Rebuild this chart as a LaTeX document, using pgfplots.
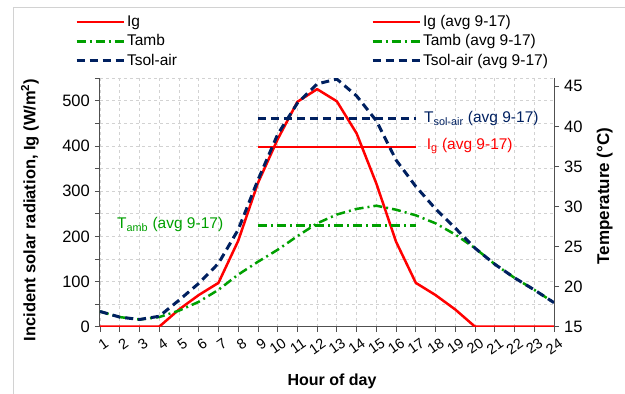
\documentclass[border=0pt]{standalone}
\usepackage{pgfplots}
\pgfplotsset{compat=1.18}
\usepackage{pgfplotstable}
\usepackage{fontspec}
\setmainfont{Liberation Sans}

\definecolor{igred}{RGB}{255,0,0}
\definecolor{tambgreen}{RGB}{0,160,0}
\definecolor{solblue}{RGB}{0,32,96}
\definecolor{gridgray}{RGB}{210,210,210}
\definecolor{axisgray}{RGB}{80,80,80}

% hourly incident radiation (W/m2), ambient and sol-air temperatures (degC)
\pgfplotstableread{
hour Ig  Tamb Tsol
1    0   16.9 16.9
2    0   16.2 16.2
3    0   15.9 15.9
4    0   16.2 16.3
5    38  17.0 18.3
6    70  18.1 20.4
7    97  19.6 22.9
8    190 21.5 27.1
9    318 23.1 33.3
10   415 24.6 39.0
11   498 26.3 42.9
12   526 27.9 45.3
13   499 29.0 45.9
14   428 29.7 43.8
15   317 30.1 40.7
16   188 29.6 35.8
17   97  28.9 32.5
18   70  27.9 29.7
19   38  26.5 27.3
20   0   24.8 24.8
21   0   22.8 22.8
22   0   21.1 21.1
23   0   19.6 19.6
24   0   18.0 18.0
}\hourly

% averages over hours 9-17
\pgfplotstableread{
hour Ig  Tamb Tsol
9    398 27.6 41.0
17   398 27.6 41.0
}\averages

\pgfplotsset{
  chartbase/.style={
    scale only axis, at={(100pt,67.3pt)}, anchor=south west,
    width=454pt, height=248.4pt,
    xmin=1, xmax=24,
    axis line style={axisgray, line width=1pt, -},
    tick style={axisgray, line width=0.8pt},
    tick align=outside, major tick length=5pt, minor tick length=5pt,
    /pgf/number format/assume math mode=true,
    ticklabel style={font=\fontsize{16.5}{16.5}\selectfont},
  },
  igline/.style={igred, line width=2.5pt, line join=round},
  tambline/.style={tambgreen, line width=2.5pt, dash pattern=on 9pt off 4pt on 2pt off 4pt},
  solline/.style={solblue, line width=3pt, dash pattern=on 8pt off 5pt},
}

\begin{document}
\begin{tikzpicture}
\useasboundingbox (0,0) rectangle (625pt,394pt);
\draw[gridgray, line width=1pt] (13pt,0pt) -- (13pt,386pt) -- (625pt,386pt);

% primary axis: incident solar radiation
\begin{axis}[chartbase,
  ymin=0, ymax=550,
  axis x line*=bottom, axis y line*=left,
  xtick={1,...,24},
  ytick={0,100,...,500}, minor ytick={50,150,...,550},
  grid=both,
  major grid style={gridgray, dashed, line width=0.8pt},
  minor grid style={gridgray, dashed, line width=0.8pt},
  xticklabel style={rotate=35, anchor=east, inner sep=0pt, yshift=-12pt,
    font=\fontsize{14.5}{14.5}\selectfont},
  yticklabel style={inner sep=1pt, xshift=-4pt},
  xlabel={Hour of day},
  ylabel={Incident solar radiation, Ig (W/m\textsuperscript{2})},
  every axis x label/.style={at={(axis description cs:0.511,-0.219)}, anchor=center,
    font=\bfseries\fontsize{16}{16}\selectfont},
  every axis y label/.style={at={(axis description cs:-0.154,0.47)}, anchor=center, rotate=90,
    font=\bfseries\fontsize{16.5}{16.5}\selectfont},
]
\addplot[igline] table[x=hour, y=Ig] {\hourly};
\addplot[igline] table[x=hour, y=Ig] {\averages};
\end{axis}

% secondary axis: temperatures
\begin{axis}[chartbase,
  ymin=15, ymax=46,
  axis x line=none, axis y line*=right,
  ytick={15,20,...,45},
  yticklabel style={inner sep=1pt, xshift=4pt},
  ylabel={Temperature (°C)},
  every axis y label/.style={at={(axis description cs:1.112,0.526)}, anchor=center, rotate=90,
    font=\bfseries\fontsize{17}{17}\selectfont},
  legend columns=2,
  legend cell align=left,
  legend style={at={(axis description cs:-0.062,1.275)}, anchor=north west,
    draw=none, fill=none, font=\fontsize{15.5}{15.5}\selectfont,
    row sep=0pt, column sep=0pt,
    nodes={inner sep=2pt, text height=12pt, text depth=3.5pt}},
  legend image code/.code={\draw[#1] (0pt,0pt) -- (47pt,0pt);},
]
\addlegendimage{igline}
\addlegendentry{\makebox[242pt][l]{Ig}}
\addlegendimage{igline}
\addlegendentry{Ig (avg 9-17)}
\addlegendimage{tambline}
\addlegendentry{\makebox[242pt][l]{Tamb}}
\addlegendimage{tambline}
\addlegendentry{Tamb (avg 9-17)}
\addlegendimage{solline}
\addlegendentry{\makebox[242pt][l]{Tsol-air}}
\addlegendimage{solline}
\addlegendentry{Tsol-air (avg 9-17)}

\addplot[tambline, forget plot] table[x=hour, y=Tamb] {\hourly};
\addplot[tambline, forget plot] table[x=hour, y=Tamb] {\averages};
\addplot[solline, forget plot] table[x=hour, y=Tsol] {\hourly};
\addplot[solline, forget plot] table[x=hour, y=Tsol] {\averages};

\node[anchor=west, solblue, inner sep=0pt, font=\fontsize{15.5}{15.5}\selectfont]
  at (axis cs:17.41,41.0) {T\textsubscript{sol-air} (avg 9-17)};
\node[anchor=west, igred, inner sep=0pt, font=\fontsize{15.5}{15.5}\selectfont]
  at (axis cs:17.55,37.5) {I\textsubscript{g} (avg 9-17)};
\node[anchor=west, tambgreen, inner sep=0pt, font=\fontsize{15.5}{15.5}\selectfont]
  at (axis cs:1.86,27.8) {T\textsubscript{amb} (avg 9-17)};
\end{axis}
\end{tikzpicture}
\end{document}
